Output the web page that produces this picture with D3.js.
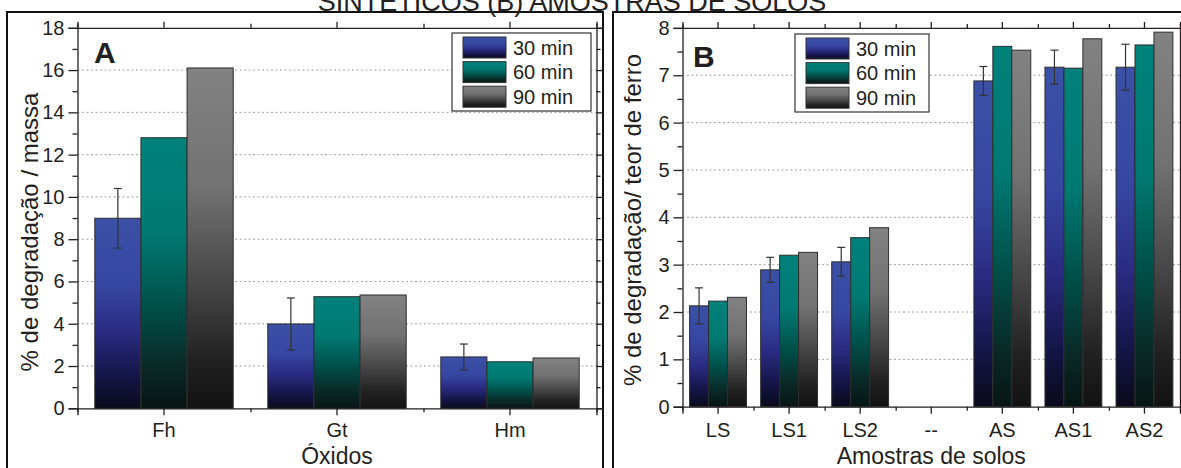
<!DOCTYPE html>
<html><head><meta charset="utf-8">
<script src="https://cdn.jsdelivr.net/npm/d3@7"></script>
<style>html,body{margin:0;padding:0;background:#fff;overflow:hidden}</style>
</head><body>
<svg id="chart" width="1181" height="468"></svg>
<script>
// Series (reaction time)
const series = ["30 min", "60 min", "90 min"];

// Panel A: synthetic iron oxides, % degradation per mass
const oxideCats = ["Fh", "Gt", "Hm"];
const oxide30 = [8.99, 3.99, 2.43];
const oxide60 = [12.8, 5.28, 2.2];
const oxide90 = [16.1, 5.36, 2.38];
const oxide30Err = [1.41, 1.23, 0.61];
const oxideTicks = [0, 2, 4, 6, 8, 10, 12, 14, 16, 18];

// Panel B: soil samples, % degradation per iron content
const soilCats = ["LS", "LS1", "LS2", "--", "AS", "AS1", "AS2"];
const soil30 = [2.13, 2.89, 3.06, null, 6.88, 7.17, 7.17];
const soil60 = [2.23, 3.20, 3.57, null, 7.61, 7.15, 7.64];
const soil90 = [2.31, 3.26, 3.78, null, 7.53, 7.77, 7.91];
const soil30Err = [0.38, 0.265, 0.305, null, 0.305, 0.36, 0.485];
const soilTicks = [0, 1, 2, 3, 4, 5, 6, 7, 8];

const FONT = "'Liberation Sans', Arial, Helvetica, sans-serif";
const svg = d3.select("#chart");
const defs = svg.append("defs");

// vertical gradients for each series, dark at the base of every bar
const gradStops = [
  [["0%", "#3b50a7"], ["35%", "#3647a2"], ["60%", "#2a2b82"], ["82%", "#15164a"], ["100%", "#0a0a1c"]],
  [["0%", "#00817a"], ["35%", "#007a73"], ["62%", "#00504a"], ["84%", "#0a2a27"], ["100%", "#061514"]],
  [["0%", "#828282"], ["35%", "#727272"], ["65%", "#444444"], ["85%", "#222222"], ["100%", "#121212"]]
];
const gradIds = ["g30", "g60", "g90"];
gradStops.forEach((stops, i) => {
  const g = defs.append("linearGradient").attr("id", gradIds[i])
    .attr("x1", 0).attr("y1", 0).attr("x2", 0).attr("y2", 1);
  stops.forEach(s => g.append("stop").attr("offset", s[0]).attr("stop-color", s[1]));
});

// panel frames
svg.append("rect").attr("x", 7).attr("y", 12).attr("width", 596).attr("height", 470)
  .attr("fill", "none").attr("stroke", "#111").attr("stroke-width", 2);
svg.append("rect").attr("x", 613).attr("y", 12).attr("width", 580).attr("height", 470)
  .attr("fill", "none").attr("stroke", "#111").attr("stroke-width", 2);

// caption line
svg.append("text").attr("x", 572).attr("y", 11).attr("text-anchor", "middle")
  .attr("font-family", FONT).attr("font-size", 27).attr("fill", "#222")
  .text("SINTETICOS (B) AMOSTRAS DE SOLOS");

function drawPanel(cfg) {
  const g = svg.append("g");
  const x = d3.scaleBand().domain(cfg.cats).range([cfg.left, cfg.right]).paddingInner(0).paddingOuter(0);
  const xs = d3.scaleBand().domain(series).range([x.bandwidth() * 0.1, x.bandwidth() * 0.9]);
  const y = d3.scaleLinear().domain([0, cfg.max]).range([cfg.bottom, cfg.top]);

  // dotted grid
  g.append("g").selectAll("line").data(cfg.ticks.filter(t => t > 0 && t < cfg.max)).join("line")
    .attr("x1", cfg.left).attr("x2", cfg.right)
    .attr("y1", d => y(d)).attr("y2", d => y(d))
    .attr("stroke", "#a0a0a0").attr("stroke-width", 1).attr("stroke-dasharray", "2,2.5");

  // bars
  const vals = [cfg.v30, cfg.v60, cfg.v90];
  const rows = [];
  cfg.cats.forEach((c, i) => series.forEach((s, j) => {
    if (vals[j][i] != null) rows.push({ c, s, j, v: vals[j][i] });
  }));
  g.append("g").selectAll("rect").data(rows).join("rect")
    .attr("x", d => x(d.c) + xs(d.s))
    .attr("width", xs.bandwidth())
    .attr("y", d => y(d.v))
    .attr("height", d => y(0) - y(d.v))
    .attr("fill", d => `url(#${gradIds[d.j]})`)
    .attr("stroke", "#2e2e2e").attr("stroke-width", 1);

  // error bars on the 30 min series
  const errs = cfg.cats.map((c, i) => ({ c, v: cfg.v30[i], e: cfg.err[i] })).filter(d => d.v != null);
  const eg = g.append("g").attr("stroke", "#333").attr("stroke-width", 1.2).attr("fill", "none");
  const cx = d => x(d.c) + xs(series[0]) + xs.bandwidth() / 2;
  eg.selectAll("line.v").data(errs).join("line").attr("class", "v")
    .attr("x1", cx).attr("x2", cx).attr("y1", d => y(d.v - d.e)).attr("y2", d => y(d.v + d.e));
  eg.selectAll("line.t").data(errs).join("line").attr("class", "t")
    .attr("x1", d => cx(d) - 4).attr("x2", d => cx(d) + 4).attr("y1", d => y(d.v + d.e)).attr("y2", d => y(d.v + d.e));
  eg.selectAll("line.b").data(errs).join("line").attr("class", "b")
    .attr("x1", d => cx(d) - 4).attr("x2", d => cx(d) + 4).attr("y1", d => y(d.v - d.e)).attr("y2", d => y(d.v - d.e));

  // axes
  const step = cfg.ticks[1] - cfg.ticks[0];
  const minor = d3.range(step / 2, cfg.max, step);
  const bounds = d3.scaleLinear().domain([0, cfg.cats.length]).range([cfg.left, cfg.right]);
  const styleAxis = a => {
    a.selectAll("path,line").attr("stroke", "#231f20").attr("stroke-width", 1.3);
    a.selectAll("text").attr("font-family", FONT).attr("fill", "#231f20");
  };
  const none = () => "";

  g.append("g").attr("transform", `translate(${cfg.left},0)`)
    .call(d3.axisLeft(y).tickValues(cfg.ticks).tickSize(9).tickPadding(4).tickFormat(d3.format("d")))
    .call(styleAxis).call(a => a.selectAll("text").attr("font-size", cfg.tickFont));
  g.append("g").attr("transform", `translate(${cfg.left},0)`)
    .call(d3.axisLeft(y).tickValues(minor).tickSize(5).tickFormat(none))
    .call(styleAxis).call(a => a.select("path").remove());
  g.append("g").attr("transform", `translate(${cfg.right},0)`)
    .call(d3.axisRight(y).tickValues(cfg.ticks).tickSize(7).tickFormat(none)).call(styleAxis);
  g.append("g").attr("transform", `translate(${cfg.right},0)`)
    .call(d3.axisRight(y).tickValues(minor).tickSize(4).tickFormat(none))
    .call(styleAxis).call(a => a.select("path").remove());

  g.append("g").attr("transform", `translate(0,${cfg.bottom})`)
    .call(d3.axisBottom(x).tickSize(7).tickPadding(cfg.xPad))
    .call(styleAxis).call(a => a.selectAll("text").attr("font-size", cfg.tickFont));
  g.append("g").attr("transform", `translate(0,${cfg.bottom})`)
    .call(d3.axisBottom(bounds).tickValues(d3.range(0, cfg.cats.length + 1)).tickSize(4).tickFormat(none))
    .call(styleAxis).call(a => a.select("path").remove());
  g.append("g").attr("transform", `translate(0,${cfg.top})`)
    .call(d3.axisTop(x).tickSize(6).tickFormat(none)).call(styleAxis);
  g.append("g").attr("transform", `translate(0,${cfg.top})`)
    .call(d3.axisTop(bounds).tickValues(d3.range(0, cfg.cats.length + 1)).tickSize(4).tickFormat(none))
    .call(styleAxis).call(a => a.select("path").remove());

  // axis titles
  g.append("text").attr("transform", `translate(${cfg.yTitleX},${cfg.yTitleY}) rotate(-90)`)
    .attr("text-anchor", "middle").attr("font-family", FONT).attr("font-size", cfg.titleFont)
    .attr("fill", "#231f20").text(cfg.yTitle);
  g.append("text").attr("x", (cfg.left + cfg.right) / 2).attr("y", cfg.xTitleY)
    .attr("text-anchor", "middle").attr("font-family", FONT).attr("font-size", cfg.xTitleFont)
    .attr("fill", "#231f20").text(cfg.xTitle);

  // panel letter
  g.append("text").attr("x", cfg.letterX).attr("y", cfg.letterY)
    .attr("font-family", FONT).attr("font-weight", "bold").attr("font-size", 30)
    .attr("fill", "#231f20").text(cfg.letter);

  // legend
  const L = cfg.legend;
  const lg = g.append("g").attr("transform", `translate(${L.x},${L.y})`);
  lg.append("rect").attr("width", L.w).attr("height", L.h)
    .attr("fill", "#fff").attr("stroke", "#333").attr("stroke-width", 1.2);
  series.forEach((s, j) => {
    lg.append("rect").attr("x", 11).attr("y", 4 + j * 24.6).attr("width", 43).attr("height", 21)
      .attr("fill", `url(#${gradIds[j]})`).attr("stroke", "#333").attr("stroke-width", 1);
    lg.append("text").attr("x", 61).attr("y", 21.5 + j * 24.6)
      .attr("font-family", FONT).attr("font-size", 20).attr("fill", "#231f20").text(s);
  });
}

drawPanel({
  cats: oxideCats, v30: oxide30, v60: oxide60, v90: oxide90, err: oxide30Err,
  ticks: oxideTicks, max: 18,
  left: 77.5, right: 596.5, top: 27.8, bottom: 408.3,
  tickFont: 20, titleFont: 24, xTitleFont: 23, xPad: 8,
  yTitle: "% de degradação / massa", yTitleX: 38, yTitleY: 232,
  xTitle: "Óxidos", xTitleY: 463.5,
  letter: "A", letterX: 94, letterY: 63,
  legend: { x: 452, y: 33, w: 139, h: 78 }
});

drawPanel({
  cats: soilCats, v30: soil30, v60: soil60, v90: soil90, err: soil30Err,
  ticks: soilTicks, max: 8,
  left: 682.5, right: 1180, top: 27.9, bottom: 406.7,
  tickFont: 20, titleFont: 24, xTitleFont: 23, xPad: 9,
  yTitle: "% de degradação/ teor de ferro", yTitleX: 641, yTitleY: 220,
  xTitle: "Amostras de solos", xTitleY: 463.5,
  letter: "B", letterX: 693, letterY: 67,
  legend: { x: 795, y: 34, w: 134, h: 78 }
});
</script>
</body></html>
